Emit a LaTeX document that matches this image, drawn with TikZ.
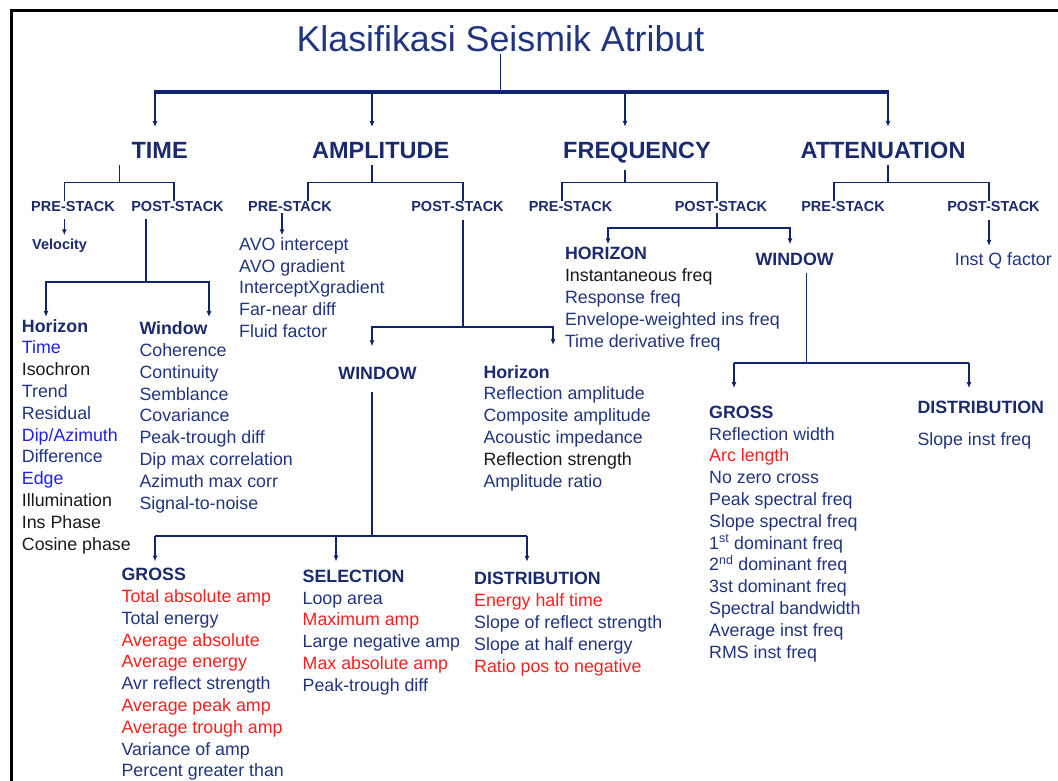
\documentclass[tikz,border=0pt]{standalone}
\usepackage{fontspec}
\setmainfont{Liberation Sans}
\usepackage{xcolor}
\definecolor{navyline}{RGB}{16,36,110}
\definecolor{navytext}{RGB}{32,52,128}
\definecolor{navybold}{RGB}{26,42,110}
\definecolor{brightblue}{RGB}{30,30,235}
\definecolor{itemred}{RGB}{250,30,30}
\definecolor{itemblack}{RGB}{25,25,25}
\usetikzlibrary{arrows.meta, calc}
\newcommand{\rd}[1]{{\color{itemred}#1}}
\newcommand{\bb}[1]{{\color{brightblue}#1}}
\newcommand{\bk}[1]{{\color{itemblack}#1}}
\newcommand{\hd}[1]{{\color{navybold}\bfseries #1}}
\tikzset{
  maintitle/.style = {font=\fontsize{35.8}{42}\selectfont, text=navytext, inner sep=1pt, anchor=base},
  heading/.style   = {font=\fontsize{23.5}{28}\selectfont\bfseries, text=navybold, inner sep=0pt, anchor=base},
  stack/.style     = {font=\fontsize{14.5}{17}\selectfont\bfseries, text=navybold, inner sep=1pt, anchor=base},
  attrtext/.style  = {font=\fontsize{17.8}{21.8}\selectfont, text=navytext, align=left, inner sep=0pt, anchor=base west},
  attrlist/.style  = {attrtext, anchor=north west, yshift=12.7pt},
  bar/.style       = {draw=navyline, line width=4pt},
  stem/.style      = {draw=navyline, line width=1.6pt},
  branch/.style    = {draw=navyline, line width=1.5pt, -{Latex[length=6pt,width=5pt]}},
  frame/.style     = {draw=black, line width=3pt},
}
\begin{document}
\begin{tikzpicture}[x=1pt, y=-1pt]
  \useasboundingbox (0,0) rectangle (1058,781);
  % frame
  \draw[frame] (1058,11) -- (11,11) -- (11,781);

  % title and main groups
  \node[maintitle] (ttl) at (500.5,52) {Klasifikasi Seismik Atribut};
  \node[heading] (time)  at (159.6,158.5) {TIME};
  \node[heading] (amp)   at (380.7,158.5) {AMPLITUDE};
  \node[heading] (freq)  at (637,158.5)   {FREQUENCY};
  \node[heading] (atten) at (883,158.5)   {ATTENUATION};

  \coordinate (barL) at (154,92.3);
  \coordinate (barR) at (889,92.3);
  \draw[stem] (ttl.south) -- (ttl.south |- barL);
  \draw[bar] (barL) -- (barR);
  \foreach \h/\x in {time/155, amp/372, freq/625, atten/888}
    \draw[branch] (\x,94) -- ($(\x,0 |- \h.north)+(0,-15)$);

  % pre-stack / post-stack
  \node[stack] (tpre)  at (73,211.7)    {PRE-STACK};
  \node[stack] (tpost) at (177.5,211.7) {POST-STACK};
  \node[stack] (apre)  at (290,211.7)   {PRE-STACK};
  \node[stack] (apost) at (457.5,211.7) {POST-STACK};
  \node[stack] (fpre)  at (570.5,211.7) {PRE-STACK};
  \node[stack] (fpost) at (721,211.7)   {POST-STACK};
  \node[stack] (npre)  at (843,211.7)   {PRE-STACK};
  \node[stack] (npost) at (993.5,211.7) {POST-STACK};

  \foreach \h/\x/\l/\r in {time/119.4/64.3/174, amp/372/308/463, freq/625/562/717, atten/888/834/989}{
    \draw[stem] ($(\x,0 |- \h.south)+(0,6.5)$) -- (\x,182.7);
    \draw[stem] (\l,200.7) -- (\l,182.7) -- (\r,182.7) -- (\r,200.7);
  }

  % time
  \node[stack, anchor=base west] (vel) at (31,249) {Velocity};
  \draw[branch] ($(64.3,0 |- tpre.south)+(0,6)$) -- ($(64.3,0 |- vel.north)+(0,-2)$);

  \node[attrlist] (thor) at (21.7,331.7) {\hd{Horizon}\\ \bb{Time}\\ \bk{Isochron}\\ Trend\\ Residual\\
    \bb{Dip/Azimuth}\\ Difference\\ \bb{Edge}\\ \bk{Illumination}\\ \bk{Ins Phase}\\ \bk{Cosine phase}};
  \node[attrlist] (twin) at (139.3,334.3) {\hd{Window}\\ Coherence\\ Continuity\\ Semblance\\ Covariance\\
    Peak-trough diff\\ Dip max correlation\\ Azimuth max corr\\ Signal-to-noise};

  \draw[stem] ($(146,0 |- tpost.south)+(0,6)$) -- (146,282);
  \draw[branch] (146,282) -| ($(46,0 |- thor.north)+(0,-2)$);
  \draw[branch] (146,282) -| ($(209,0 |- twin.north)+(0,-4.5)$);

  % amplitude
  \node[attrlist] (aavo) at (239,250) {AVO intercept\\ AVO gradient\\ InterceptXgradient\\ Far-near diff\\ Fluid factor};
  \draw[branch] (282,0 |- apre.south) -- ($(282,0 |- aavo.north)+(0,-2)$);

  \node[attrtext, anchor=base] (awin) at (377.5,379) {\hd{WINDOW}};
  \node[attrlist] (ahor) at (483.3,377.7) {\hd{Horizon}\\ Reflection amplitude\\ Composite amplitude\\
    Acoustic impedance\\ \bk{Reflection strength}\\ Amplitude ratio};

  \draw[stem] ($(463,0 |- apost.south)+(0,6.5)$) -- (463,327);
  \draw[branch] (463,327) -| ($(372,0 |- awin.north)+(0,-20)$);
  \draw[branch] (463,327) -| ($(553,0 |- ahor.north)+(0,-20)$);

  \node[attrlist] (agross) at (121.4,580.7) {\hd{GROSS}\\ \rd{Total absolute amp}\\ Total energy\\
    \rd{Average absolute}\\ \rd{Average energy}\\ Avr reflect strength\\ \rd{Average peak amp}\\
    \rd{Average trough amp}\\ Variance of amp\\ Percent greater than};
  \node[attrlist] (asel) at (302.5,582.3) {\hd{SELECTION}\\ Loop area\\ \rd{Maximum amp}\\
    Large negative amp\\ \rd{Max absolute amp}\\ Peak-trough diff};
  \node[attrlist] (adist) at (474,585) {\hd{DISTRIBUTION}\\ \rd{Energy half time}\\
    Slope of reflect strength\\ Slope at half energy\\ \rd{Ratio pos to negative}};

  \draw[stem] ($(372,0 |- awin.south)+(0,13)$) -- (372,536);
  \draw[stem] (155,536) -- (527,536);
  \draw[branch] (155,536) -- ($(155,0 |- agross.north)+(0,-6.5)$);
  \draw[branch] (336,536) -- ($(336,0 |- asel.north)+(0,-8)$);
  \draw[branch] (527,536) -- ($(527,0 |- adist.north)+(0,-10.5)$);

  % frequency
  \node[attrlist] (fhor) at (564.8,260) {\hd{HORIZON}\\ \bk{Instantaneous freq}\\ Response freq\\
    Envelope-weighted ins freq\\ Time derivative freq};
  \node[attrtext, anchor=base] (fwin) at (794.6,265) {\hd{WINDOW}};

  \draw[stem] (717,0 |- fpost.south) -- (717,228);
  \draw[branch] (717,228) -| ($(608,0 |- fhor.north)+(0,-3)$);
  \draw[branch] (717,228) -| ($(790,0 |- fwin.north)+(0,-8)$);

  \node[attrlist] (fgross) at (709,418.3) {\hd{GROSS}\\ Reflection width\\ \rd{Arc length}\\ No zero cross\\
    Peak spectral freq\\ Slope spectral freq\\ 1\textsuperscript{st} dominant freq\\
    2\textsuperscript{nd} dominant freq\\ 3st dominant freq\\ Spectral bandwidth\\ Average inst freq\\ RMS inst freq};
  \node[attrlist] (fdist) at (917.3,413.3) {\hd{DISTRIBUTION}\\[10pt] Slope inst freq};

  \draw[stem] ($(806.5,0 |- fwin.south)+(0,8)$) -- (806.5,363);
  \draw[stem] (734,363) -- (969,363);
  \draw[branch] (734,363) -- ($(734,0 |- fgross.north)+(0,-17.5)$);
  \draw[branch] (969,363) -- ($(969,0 |- fdist.north)+(0,-12.5)$);

  % attenuation
  \node[attrtext] (qfac) at (954.6,265) {Inst Q factor};
  \draw[branch] ($(989,0 |- npost.south)+(0,7)$) -- ($(989,0 |- qfac.north)+(0,-6)$);
\end{tikzpicture}
\end{document}
